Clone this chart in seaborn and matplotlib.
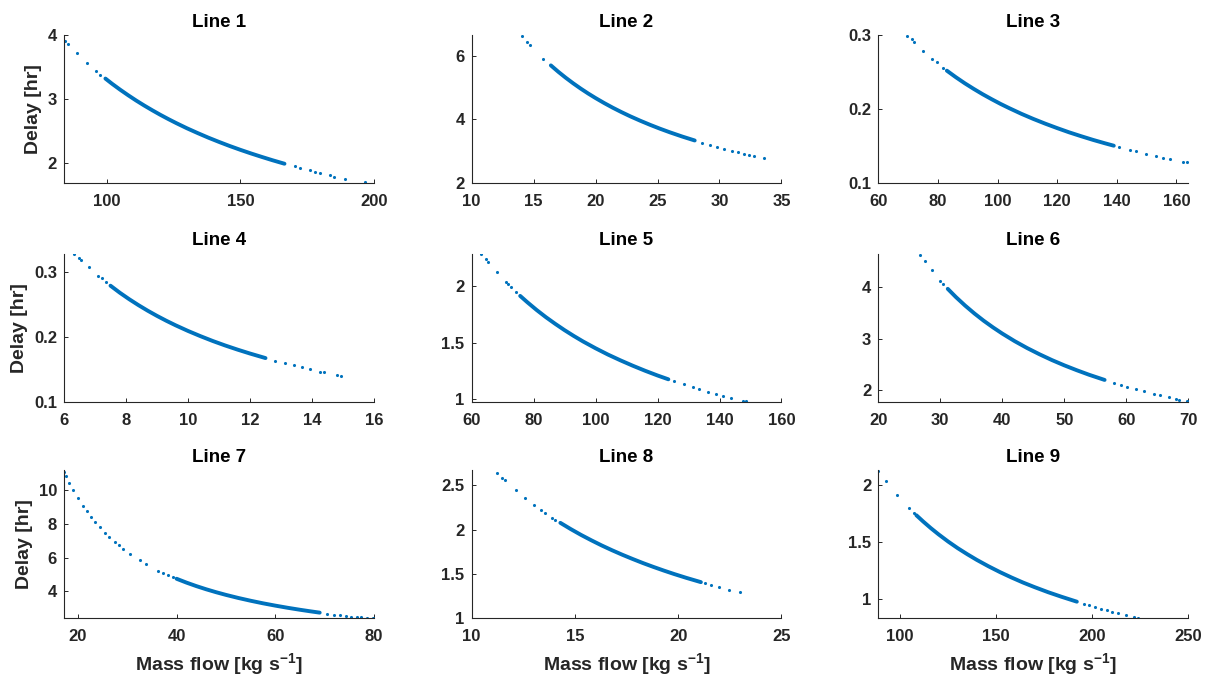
import matplotlib
matplotlib.use("Agg")
import matplotlib.pyplot as plt
import pandas as pd
import seaborn as sns
from matplotlib.ticker import FixedLocator, FuncFormatter

# ---------------------------------------------------------------------------
# Data: mass flow [kg/s] vs. delay [hr] for nine lines.
# "band" = densely sampled core of each cloud, "dots" = sparse outer samples.
# ---------------------------------------------------------------------------
titles = ["Line 1", "Line 2", "Line 3", "Line 4", "Line 5",
          "Line 6", "Line 7", "Line 8", "Line 9"]

line1_band_flow = [99.5, 102, 105, 108, 111, 114, 117, 120, 123, 126, 130, 134, 138, 142,
                   146, 150, 154, 158, 162, 166.5]
line1_band_delay = [3.317, 3.235, 3.143, 3.056, 2.973, 2.895, 2.821, 2.750, 2.683, 2.619,
                    2.538, 2.463, 2.391, 2.324, 2.260, 2.200, 2.143, 2.089, 2.037, 1.982]
line1_dots_flow = [84.3, 85.6, 89.0, 92.7, 96.0, 97.5, 170.3, 172.2, 175.9, 177.8, 179.7,
                   183.4, 185.0, 189.0, 196.6]
line1_dots_delay = [3.91, 3.86, 3.71, 3.56, 3.44, 3.38, 1.94, 1.92, 1.88, 1.86, 1.84,
                    1.80, 1.78, 1.75, 1.69]

line2_band_flow = [16.4, 17, 17.6, 18.2, 18.8, 19.4, 20, 20.7, 21.4, 22.1, 22.8, 23.6,
                   24.4, 25.2, 26, 27, 28]
line2_band_delay = [5.695, 5.494, 5.307, 5.132, 4.968, 4.814, 4.670, 4.512, 4.364, 4.226,
                    4.096, 3.958, 3.828, 3.706, 3.592, 3.459, 3.336]
line2_dots_flow = [14.1, 14.5, 14.7, 15.8, 28.6, 29.2, 29.8, 30.4, 31.0, 31.5, 32.0,
                   32.4, 32.8, 33.6]
line2_dots_delay = [6.62, 6.44, 6.35, 5.91, 3.27, 3.20, 3.13, 3.07, 3.01, 2.97, 2.92,
                    2.88, 2.85, 2.78]

line3_band_flow = [83, 86, 89, 92, 95, 98, 101, 104, 108, 112, 116, 120, 124, 128, 132,
                   136, 139]
line3_band_delay = [0.2518, 0.2430, 0.2348, 0.2272, 0.2200, 0.2133, 0.2069, 0.2010, 0.1935,
                    0.1866, 0.1802, 0.1742, 0.1685, 0.1633, 0.1583, 0.1537, 0.1504]
line3_dots_flow = [69.7, 71.2, 72.0, 74.9, 77.9, 79.6, 81.8, 140.8, 144.4, 146.6, 149.9,
                   153.3, 155.5, 157.8, 162.2, 163.4]
line3_dots_delay = [0.299, 0.294, 0.290, 0.279, 0.268, 0.263, 0.256, 0.148, 0.145, 0.143,
                    0.139, 0.136, 0.134, 0.132, 0.129, 0.128]

line4_band_flow = [7.5, 7.8, 8.1, 8.4, 8.7, 9.0, 9.3, 9.6, 10, 10.4, 10.8, 11.2, 11.6,
                   12.0, 12.5]
line4_band_delay = [0.2787, 0.2679, 0.2580, 0.2488, 0.2402, 0.2322, 0.2247, 0.2177, 0.2090,
                    0.2010, 0.1935, 0.1866, 0.1802, 0.1742, 0.1672]
line4_dots_flow = [6.31, 6.47, 6.54, 6.81, 7.10, 7.21, 7.37, 12.81, 13.14, 13.41, 13.68,
                   13.95, 14.27, 14.38, 14.81, 14.92]
line4_dots_delay = [0.327, 0.321, 0.318, 0.307, 0.294, 0.290, 0.284, 0.163, 0.159, 0.156,
                    0.153, 0.150, 0.146, 0.145, 0.141, 0.140]

line5_band_flow = [75.7, 78, 81, 84, 87, 90, 93, 96, 100, 104, 108, 112, 116, 120, 123.5]
line5_band_delay = [1.915, 1.859, 1.790, 1.726, 1.667, 1.611, 1.559, 1.510, 1.450, 1.394,
                    1.343, 1.295, 1.250, 1.208, 1.174]
line5_dots_flow = [63.2, 64.6, 65.4, 68.1, 71.1, 71.9, 72.8, 74.4, 125.4, 128.6, 131.4,
                   133.5, 136.2, 138.9, 141.1, 143.8, 147.5, 148.6]
line5_dots_delay = [2.285, 2.245, 2.217, 2.129, 2.039, 2.017, 1.992, 1.949, 1.156, 1.128,
                    1.104, 1.086, 1.065, 1.044, 1.028, 1.008, 0.985, 0.980]

line6_band_flow = [31.2, 32.5, 34, 35.5, 37, 38.5, 40, 42, 44, 46, 48, 50, 52, 54, 56.5]
line6_band_delay = [3.974, 3.815, 3.647, 3.493, 3.351, 3.221, 3.100, 2.952, 2.818, 2.696,
                    2.583, 2.480, 2.385, 2.296, 2.195]
line6_dots_flow = [26.7, 27.5, 28.6, 30.0, 30.5, 58.0, 59.1, 60.1, 61.5, 62.8, 64.4,
                   65.5, 66.9, 68.0, 68.5, 69.8]
line6_dots_delay = [4.644, 4.509, 4.336, 4.133, 4.066, 2.138, 2.098, 2.063, 2.016, 1.975,
                    1.925, 1.893, 1.853, 1.824, 1.810, 1.778]

line7_band_flow = [40, 42, 44, 46, 48, 50, 52.5, 55, 57.5, 60, 62.5, 65, 67, 69]
line7_band_delay = [4.750, 4.524, 4.318, 4.130, 3.958, 3.800, 3.619, 3.455, 3.304, 3.167,
                    3.040, 2.923, 2.836, 2.754]
line7_dots_flow = [17.2, 17.6, 18.3, 19.1, 20.0, 21.0, 21.8, 22.7, 23.4, 24.4, 25.6, 26.4,
                   27.5, 28.3, 29.2, 30.5, 32.5, 33.9, 36.3, 37.3, 38.3, 39.3, 70.5, 71.9,
                   73.2, 74.4, 75.3, 76.5, 77.3, 78.5, 79.7]
line7_dots_delay = [11.05, 10.80, 10.38, 9.95, 9.50, 9.05, 8.72, 8.37, 8.12, 7.79, 7.42, 7.20,
                    6.91, 6.71, 6.51, 6.23, 5.85, 5.60, 5.23, 5.09, 4.96, 4.83, 2.70, 2.64,
                    2.60, 2.55, 2.52, 2.49, 2.47, 2.45, 2.43]

line8_band_flow = [14.3, 14.8, 15.3, 15.8, 16.3, 16.8, 17.3, 17.8, 18.3, 18.8, 19.3, 19.8,
                   20.4, 21.1]
line8_band_delay = [2.077, 2.007, 1.941, 1.880, 1.822, 1.768, 1.717, 1.669, 1.623, 1.580,
                    1.539, 1.500, 1.456, 1.408]
line8_dots_flow = [11.24, 11.48, 11.6, 12.13, 12.58, 13.02, 13.34, 13.58, 13.9, 14.06,
                   21.3, 21.6, 21.97, 22.45, 22.98]
line8_dots_delay = [2.642, 2.587, 2.560, 2.448, 2.361, 2.281, 2.226, 2.187, 2.137, 2.112,
                    1.394, 1.375, 1.352, 1.323, 1.292]

line9_band_flow = [108.5, 112, 116, 120, 125, 130, 135, 140, 146, 152, 158, 164, 170, 177,
                   184, 192]
line9_band_delay = [1.733, 1.679, 1.621, 1.567, 1.504, 1.446, 1.393, 1.343, 1.288, 1.237,
                    1.190, 1.146, 1.106, 1.062, 1.022, 0.979]
line9_dots_flow = [88.7, 92.5, 98.6, 104.7, 107.5, 195.5, 198.5, 201.5, 204.5, 207.5,
                   210.5, 213.5, 217.5, 221.5, 224.0]
line9_dots_delay = [2.120, 2.032, 1.907, 1.796, 1.749, 0.962, 0.947, 0.933, 0.919, 0.906,
                    0.893, 0.881, 0.864, 0.849, 0.839]

# Axis ranges and tick positions per panel
x_limits = [(84, 200), (10, 35), (60, 164), (6, 16), (60, 160),
            (20, 70), (17.2, 80), (10, 25), (88.7, 250)]
y_limits = [(1.68, 4.0), (2, 6.65), (0.1, 0.3), (0.1, 0.328), (0.975, 2.29),
            (1.77, 4.66), (2.42, 11.14), (1, 2.67), (0.834, 2.125)]
x_ticks = [[100, 150, 200], [10, 15, 20, 25, 30, 35], [60, 80, 100, 120, 140, 160],
           [6, 8, 10, 12, 14, 16], [60, 80, 100, 120, 140, 160], [20, 30, 40, 50, 60, 70],
           [20, 40, 60, 80], [10, 15, 20, 25], [100, 150, 200, 250]]
y_ticks = [[2, 3, 4], [2, 4, 6], [0.1, 0.2, 0.3], [0.1, 0.2, 0.3], [1, 1.5, 2],
           [2, 3, 4], [4, 6, 8, 10], [1, 1.5, 2, 2.5], [1, 1.5, 2]]

band_flows = [line1_band_flow, line2_band_flow, line3_band_flow, line4_band_flow, line5_band_flow,
              line6_band_flow, line7_band_flow, line8_band_flow, line9_band_flow]
band_delays = [line1_band_delay, line2_band_delay, line3_band_delay, line4_band_delay, line5_band_delay,
               line6_band_delay, line7_band_delay, line8_band_delay, line9_band_delay]
dots_flows = [line1_dots_flow, line2_dots_flow, line3_dots_flow, line4_dots_flow, line5_dots_flow,
              line6_dots_flow, line7_dots_flow, line8_dots_flow, line9_dots_flow]
dots_delays = [line1_dots_delay, line2_dots_delay, line3_dots_delay, line4_dots_delay, line5_dots_delay,
               line6_dots_delay, line7_dots_delay, line8_dots_delay, line9_dots_delay]

# ---------------------------------------------------------------------------
# Style
# ---------------------------------------------------------------------------
sns.set_theme(style="white")
plt.rcParams["font.family"] = ["Liberation Sans", "DejaVu Sans"]
plt.rcParams["font.weight"] = "bold"
plt.rcParams["mathtext.fontset"] = "custom"
plt.rcParams["mathtext.rm"] = "Liberation Sans:bold"
plt.rcParams["mathtext.default"] = "rm"

BLUE = "#0072BD"
INK = "#262626"

fig = plt.figure(figsize=(12.09, 6.80), dpi=100)
W, H = 1209.0, 680.0
col_left = [64, 471.5, 878.3]
row_bottom = [183, 401.7, 618.3]
ax_w, ax_h = 310, 148

fmt = FuncFormatter(lambda v, p: f"{v:g}")

for i in range(9):
    r, c = divmod(i, 3)
    ax = fig.add_axes([col_left[c] / W, 1 - row_bottom[r] / H, ax_w / W, ax_h / H])

    band = pd.DataFrame({"flow": band_flows[i], "delay": band_delays[i]})
    dots = pd.DataFrame({"flow": dots_flows[i], "delay": dots_delays[i]})

    sns.lineplot(data=band, x="flow", y="delay", ax=ax, color=BLUE, lw=2.8,
                 estimator=None, sort=False, solid_capstyle="round",
                 solid_joinstyle="round")
    sns.scatterplot(data=dots, x="flow", y="delay", ax=ax, color=BLUE, s=5,
                    linewidth=0, marker="o")

    ax.set_xlim(*x_limits[i])
    ax.set_ylim(*y_limits[i])
    ax.xaxis.set_major_locator(FixedLocator(x_ticks[i]))
    ax.yaxis.set_major_locator(FixedLocator(y_ticks[i]))
    ax.xaxis.set_major_formatter(fmt)
    ax.yaxis.set_major_formatter(fmt)

    for side in ("top", "right"):
        ax.spines[side].set_visible(False)
    for side in ("left", "bottom"):
        ax.spines[side].set_color(INK)
        ax.spines[side].set_linewidth(0.8)

    ax.tick_params(axis="both", which="major", direction="in", length=3, width=0.7,
                   colors=INK, labelsize=12, bottom=True, left=True, top=False, right=False)
    ax.tick_params(axis="x", pad=8)
    ax.tick_params(axis="y", pad=5)
    for lab in ax.get_xticklabels() + ax.get_yticklabels():
        lab.set_fontweight("bold")

    ax.set_title(titles[i], fontsize=13.5, fontweight="bold", color="black", pad=6)

    if c == 0:
        ax.set_ylabel("Delay [hr]", fontsize=14, fontweight="bold", color=INK, labelpad=4)
    else:
        ax.set_ylabel("")
    if r == 2:
        ax.set_xlabel(r"Mass flow [kg s$^{-1}$]", fontsize=14, fontweight="bold",
                      color=INK, labelpad=5)
    else:
        ax.set_xlabel("")

fig.savefig("out.png", dpi=100, facecolor="white")
